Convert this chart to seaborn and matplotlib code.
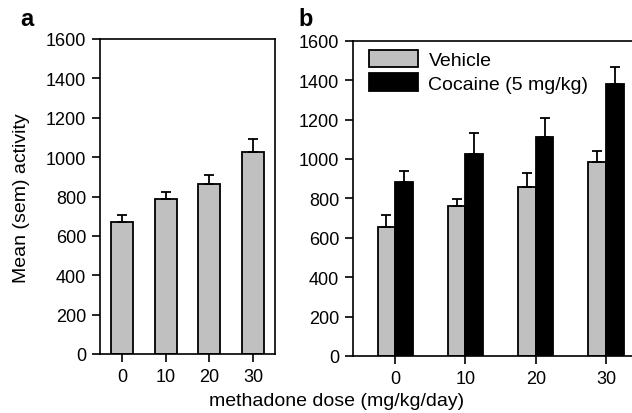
import matplotlib
matplotlib.use("Agg")
import matplotlib.pyplot as plt
import seaborn as sns
import pandas as pd
import numpy as np

doses = ["0", "10", "20", "30"]
a_means = [668, 786, 861, 1028]
a_sem = [37, 39, 50, 66]
veh_means = [654, 760, 856, 983]
veh_sem = [62, 36, 73, 59]
coc_means = [885, 1025, 1110, 1378]
coc_sem = [52, 107, 96, 87]
groups = ["Vehicle", "Cocaine (5 mg/kg)"]
gray = "#c0c0c0"

sns.set_style("ticks")
plt.rcParams["font.family"] = ["Liberation Sans", "DejaVu Sans"]
plt.rcParams["font.size"] = 13
plt.rcParams["text.color"] = "black"

fig = plt.figure(figsize=(6.32, 4.14), dpi=100)
ax1 = fig.add_axes([100/632, 59/414, 175/632, 315/414])
ax2 = fig.add_axes([353/632, 57/414, 279/632, 315.3/414])

# Panel a
df_a = pd.DataFrame({"dose": doses, "mean": a_means, "sem": a_sem})
sns.barplot(data=df_a, x="dose", y="mean", order=doses, color=gray,
            edgecolor="black", linewidth=1.3, width=0.5, errorbar=None,
            saturation=1, ax=ax1)
for p, e in zip(ax1.patches, a_sem):
    xc = p.get_x() + p.get_width() / 2
    h = p.get_height()
    ax1.errorbar(xc, h, yerr=[[0], [e]], fmt="none", ecolor="black",
                 elinewidth=1.3, capsize=3.5, capthick=1.3, zorder=1)

# Panel b
df_b = pd.DataFrame({
    "dose": doses * 2,
    "group": [groups[0]] * 4 + [groups[1]] * 4,
    "mean": veh_means + coc_means,
    "sem": veh_sem + coc_sem,
})
sns.barplot(data=df_b, x="dose", y="mean", hue="group", order=doses,
            hue_order=groups, palette=[gray, "black"], edgecolor="black",
            linewidth=1.3, width=0.5, errorbar=None, saturation=1, ax=ax2)
bars = [p for p in ax2.patches if p.get_height() > 0]
bars = sorted(bars, key=lambda p: p.get_x())
all_sems = []
for i in range(4):
    all_sems += [veh_sem[i], coc_sem[i]]
for p, e in zip(bars, all_sems):
    xc = p.get_x() + p.get_width() / 2
    h = p.get_height()
    ax2.errorbar(xc, h, yerr=[[0], [e]], fmt="none", ecolor="black",
                 elinewidth=1.3, capsize=3.5, capthick=1.3, zorder=1)

leg = ax2.legend(loc="upper left", bbox_to_anchor=(0.03, 0.995), frameon=False,
                 handlelength=2.5, handleheight=1.0, handletextpad=0.55,
                 labelspacing=0.2, borderaxespad=0, fontsize=14)
for t in leg.get_texts():
    t.set_color("black")

for ax in (ax1, ax2):
    ax.set_ylim(0, 1600)
    ax.set_yticks(range(0, 1601, 200))
    ax.set_xlabel("")
    ax.set_ylabel("")
    ax.tick_params(direction="out", length=6, width=1.2, labelsize=13,
                   color="black", labelcolor="black", pad=4)
    for s in ax.spines.values():
        s.set_linewidth(1.2)
        s.set_color("black")
        s.set_visible(True)

ax1.set_xlim(-0.5, 3.5)
ax2.set_xlim(-0.6, 3.37)
ax2.spines["right"].set_visible(False)

fig.text(22/632, 1 - 198/414, "Mean (sem) activity", rotation=90,
         ha="center", va="center", fontsize=14, color="black")
fig.text(337/632, 1 - 402/414, "methadone dose (mg/kg/day)", ha="center",
         va="center", fontsize=14, color="black")
fig.text(20/632, 1 - 20/414, "a", fontsize=17, fontweight="bold",
         ha="left", va="center", color="black")
fig.text(298/632, 1 - 20/414, "b", fontsize=17, fontweight="bold",
         ha="left", va="center", color="black")

fig.savefig("out.png", dpi=100)
